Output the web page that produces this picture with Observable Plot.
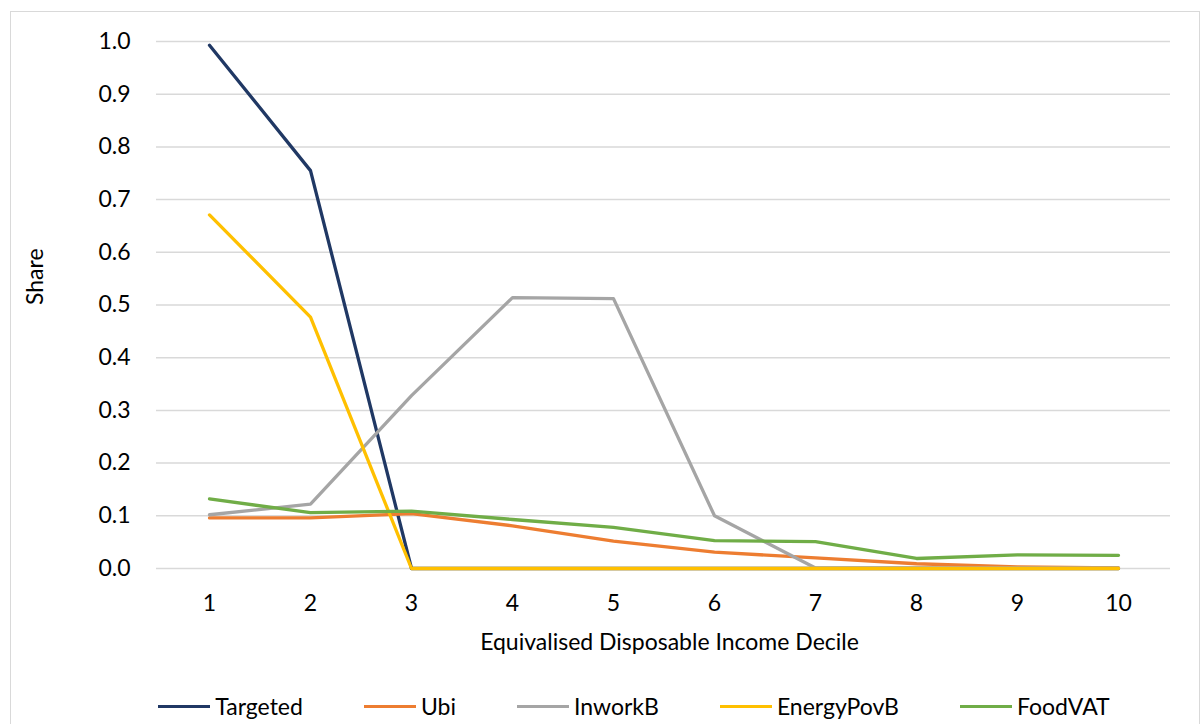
<!DOCTYPE html>
<html>
<head>
<meta charset="utf-8">
<script src="https://cdn.jsdelivr.net/npm/d3@7"></script>
<script src="https://cdn.jsdelivr.net/npm/@observablehq/plot@0.6"></script>
<style>
  html, body { margin: 0; padding: 0; background: #fff; }
  body { width: 1202px; height: 724px; overflow: hidden; position: relative; font-family: Lato, "Open Sans", sans-serif; }
  #frame { position: absolute; left: 10px; top: 11px; width: 1190px; height: 720px; border: 1.5px solid #d9d9d9; box-sizing: border-box; }
  #chart { position: absolute; left: 0; top: 0; }
  #legend { position: absolute; left: 0; top: 691px; width: 1202px; display: flex; justify-content: center; gap: 61px; font-size: 23px; line-height: 30px; color: #000; padding-left: 66px; box-sizing: border-box; }
  .item { display: flex; align-items: center; }
  .swatch { width: 52px; height: 3px; margin-right: 5px; }
</style>
</head>
<body>
<div id="frame"></div>
<div id="chart"></div>
<div id="legend"></div>
<script>
// Share of each policy's benefit by equivalised disposable income decile
const deciles = [1, 2, 3, 4, 5, 6, 7, 8, 9, 10];
const seriesNames = ["Targeted", "Ubi", "InworkB", "EnergyPovB", "FoodVAT"];
const seriesColors = ["#203864", "#ED7D31", "#A5A5A5", "#FFC000", "#70AD47"];

const targeted   = [0.993, 0.755, 0, 0, 0, 0, 0, 0, 0, 0];
const ubi        = [0.096, 0.096, 0.104, 0.081, 0.052, 0.031, 0.020, 0.009, 0.003, 0.001];
const inworkB    = [0.102, 0.122, 0.328, 0.514, 0.512, 0.100, 0.001, 0.001, 0.001, 0.001];
const energyPovB = [0.671, 0.477, 0, 0, 0, 0, 0, 0, 0, 0];
const foodVAT    = [0.132, 0.106, 0.109, 0.093, 0.078, 0.053, 0.051, 0.019, 0.026, 0.025];

const yTicks = [0, 0.1, 0.2, 0.3, 0.4, 0.5, 0.6, 0.7, 0.8, 0.9, 1.0];

const allSeries = [targeted, ubi, inworkB, energyPovB, foodVAT];
const rows = allSeries.flatMap((vals, i) =>
  vals.map((v, j) => ({series: seriesNames[i], decile: deciles[j], value: v}))
);

const font = "Lato, 'Open Sans', sans-serif";
const fs = 23;

const chart = Plot.plot({
  width: 1202,
  height: 680,
  marginTop: 41,
  marginBottom: 112,
  marginLeft: 156,
  marginRight: 32,
  style: {fontFamily: font, fontSize: fs + "px", color: "#000", background: "transparent"},
  x: {type: "point", domain: deciles, padding: 0.5},
  y: {domain: [0, 1]},
  color: {domain: seriesNames, range: seriesColors},
  marks: [
    Plot.gridY(yTicks, {stroke: "#d9d9d9", strokeOpacity: 1, strokeWidth: 1.5}),
    Plot.axisY(yTicks, {
      tickSize: 0, tickPadding: 26, tickFormat: d => d.toFixed(1),
      fontSize: fs, label: null
    }),
    Plot.axisX(deciles, {
      tickSize: 0, tickPadding: 26, fontSize: fs,
      label: null
    }),
    Plot.text(["Equivalised Disposable Income Decile"], {
      frameAnchor: "bottom", dy: 81, dx: 6, fontSize: fs, text: d => d
    }),
    Plot.text(["Share"], {
      frameAnchor: "left", dx: -121, rotate: -90, fontSize: fs, text: d => d
    }),
    Plot.line(rows, {
      x: "decile", y: "value", z: "series", stroke: "series",
      strokeWidth: 3.3, strokeLinejoin: "round", strokeLinecap: "round"
    })
  ]
});

document.getElementById("chart").appendChild(chart);

// Legend below the chart
const legend = d3.select("#legend");
seriesNames.forEach((name, i) => {
  const item = legend.append("div").attr("class", "item");
  item.append("div").attr("class", "swatch").style("background", seriesColors[i]);
  item.append("span").text(name);
});
</script>
</body>
</html>
